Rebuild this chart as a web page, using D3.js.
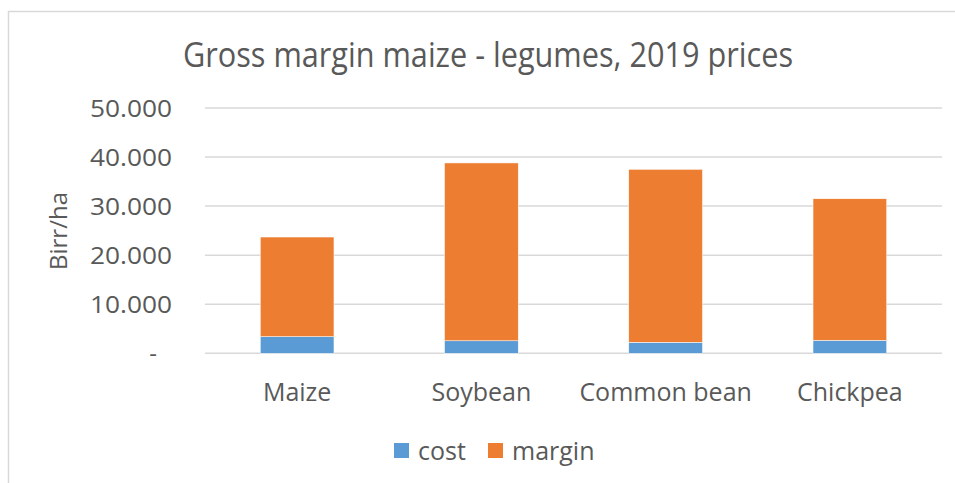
<!DOCTYPE html>
<html>
<head>
<meta charset="utf-8">
<script src="https://cdn.jsdelivr.net/npm/d3@7"></script>
<style>
  body { margin: 0; background: #fff; }
  text { font-family: "Open Sans", sans-serif; fill: #595959; }
</style>
</head>
<body>
<div id="chart"></div>
<script>
// ......................
// Data
var crops = ["Maize", "Soybean", "Common bean", "Chickpea"];
var cost = [3400, 2550, 2250, 2650];
var margin = [20300, 36250, 35250, 28850];
var seriesNames = ["cost", "margin"];
var seriesColors = ["#5b9bd5", "#ed7d31"];
var yTicks = [0, 10000, 20000, 30000, 40000, 50000];

var svgWidth = 955;
var svgHeight = 483;

var svg = d3.select("#chart")
    .append("svg")
    .attr("width", svgWidth)
    .attr("height", svgHeight);

// chart frame
svg.append("rect")
    .attr("x", 8.5)
    .attr("y", 11.5)
    .attr("width", 980)
    .attr("height", 520)
    .attr("fill", "none")
    .attr("stroke", "#d9d9d9")
    .attr("stroke-width", 1.5);

// ......................
// scales
var x = d3.scaleBand()
    .domain(crops)
    .range([205, 942])
    .paddingInner(0.6)
    .paddingOuter(0.3);

var y = d3.scaleLinear()
    .domain([0, 50000])
    .range([353.3, 108]);

var locale = d3.formatLocale({decimal: ",", thousands: ".", grouping: [3], currency: ["", ""]});
var fmt = locale.format(",");

// gridlines
svg.append("g")
    .selectAll("line")
    .data(yTicks)
    .enter()
    .append("line")
    .attr("x1", 205)
    .attr("x2", 942)
    .attr("y1", d => y(d))
    .attr("y2", d => y(d))
    .attr("stroke", "#d9d9d9")
    .attr("stroke-width", 1.5);

// y tick labels
svg.append("g")
    .selectAll("text")
    .data(yTicks)
    .enter()
    .append("text")
    .attr("x", d => d === 0 ? 157 : 172)
    .attr("y", d => y(d) + 8.5)
    .attr("text-anchor", "end")
    .attr("font-size", 24)
    .attr("textLength", d => d === 0 ? null : 82)
    .attr("lengthAdjust", "spacingAndGlyphs")
    .text(d => d === 0 ? "-" : fmt(d));

// ......................
// stacked bars
var rows = crops.map((c, i) => ({crop: c, cost: cost[i], margin: margin[i]}));
var stack = d3.stack().keys(seriesNames)(rows);

svg.append("g")
    .selectAll("g")
    .data(stack)
    .enter()
    .append("g")
    .attr("fill", (d, i) => seriesColors[i])
    .selectAll("rect")
    .data(d => d)
    .enter()
    .append("rect")
    .attr("x", d => x(d.data.crop))
    .attr("width", x.bandwidth())
    .attr("y", d => y(d[1]))
    .attr("height", d => y(d[0]) - y(d[1]))
    .attr("stroke", "#ffffff")
    .attr("stroke-width", 0.5);

// category labels
svg.append("g")
    .selectAll("text")
    .data(crops)
    .enter()
    .append("text")
    .attr("x", d => x(d) + x.bandwidth() / 2)
    .attr("y", 401)
    .attr("text-anchor", "middle")
    .attr("font-size", 25)
    .text(d => d);

// y axis title
svg.append("text")
    .attr("transform", "translate(67, 231) rotate(-90)")
    .attr("text-anchor", "middle")
    .attr("font-size", 24)
    .text("Birr/ha");

// chart title
svg.append("text")
    .attr("x", 183)
    .attr("y", 67)
    .attr("font-size", 35)
    .attr("textLength", 610)
    .attr("lengthAdjust", "spacingAndGlyphs")
    .text("Gross margin maize - legumes, 2019 prices");

// ......................
// legend
var legendX = [394, 488];
var legend = svg.append("g");

legend.selectAll("rect")
    .data(seriesNames)
    .enter()
    .append("rect")
    .attr("x", (d, i) => legendX[i])
    .attr("y", 443)
    .attr("width", 15)
    .attr("height", 15)
    .attr("fill", (d, i) => seriesColors[i]);

legend.selectAll("text")
    .data(seriesNames)
    .enter()
    .append("text")
    .attr("x", (d, i) => legendX[i] + 24)
    .attr("y", 460)
    .attr("font-size", 25)
    .text(d => d);
</script>
</body>
</html>
